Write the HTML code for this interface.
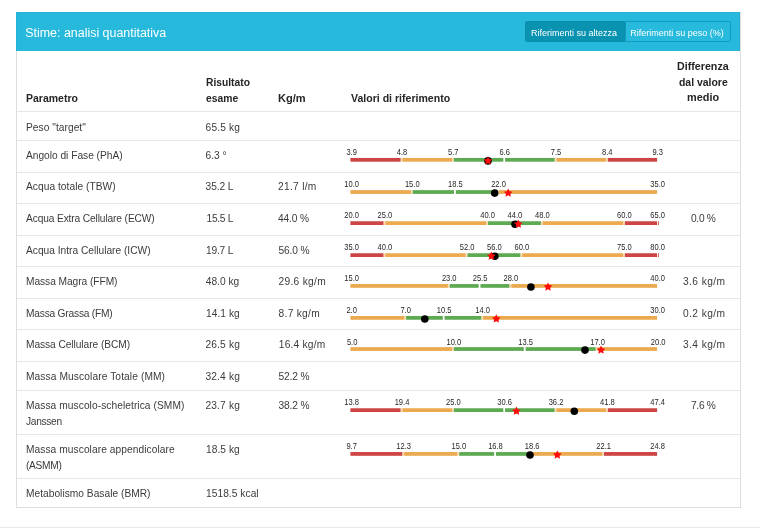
<!DOCTYPE html>
<html><head><meta charset="utf-8"><title>Stime: analisi quantitativa</title>
<style>
html,body{margin:0;padding:0;background:#fff;}
body{width:760px;height:532px;position:relative;overflow:hidden;font-family:"Liberation Sans", sans-serif;color:#3b3b3b;}
#w{position:absolute;left:0;top:0;width:760px;height:532px;will-change:transform;}
.t{position:absolute;white-space:nowrap;font-size:10.2px;line-height:12px;}
.b{font-weight:bold;font-size:10.4px;color:#262626;transform-origin:0 0;}
.hl{position:absolute;left:17px;width:723px;height:1px;background:#e6e6e9;}
#panel{position:absolute;left:16px;top:12px;width:723px;height:495px;border:1px solid #dedee2;border-top:none;box-sizing:content-box;}
#hdr{position:absolute;left:16px;top:12px;width:724px;height:39px;background:#26b9dc;box-shadow:inset 1px 1px 0 #24b1d3, inset -1px 0 0 #24b1d3;}
#title{position:absolute;left:25.2px;top:25px;font-size:12.45px;line-height:16px;color:#fff;white-space:nowrap;}
.btn{position:absolute;top:21px;height:21px;box-sizing:border-box;color:#fff;font-size:9px;line-height:22px;text-align:center;white-space:nowrap;}
#b1{left:525px;width:100px;padding-right:2px;background:#0a93b0;border:1px solid #0a8eaa;border-radius:2.5px 0 0 2.5px;}
#b2{left:624.5px;width:106px;padding-right:1px;background:#27badd;border:1px solid #109cc0;border-radius:0 2.5px 2.5px 0;}
#foot{position:absolute;left:0;top:527px;width:760px;height:1px;background:#e9e9ec;}
svg{position:absolute;left:0;top:0;}
svg text{font-family:"Liberation Sans", sans-serif;font-size:7.55px;fill:#262626;text-anchor:middle;}

</style></head><body>
<div id="w">
<div id="panel"></div><div id="hdr"></div>
<div id="title">Stime: analisi quantitativa</div>
<div class="btn" id="b1">Riferimenti su altezza</div><div class="btn" id="b2">Riferimenti su peso (%)</div>
<div class="hl" style="top:110.80px"></div>
<div class="hl" style="top:139.70px"></div>
<div class="hl" style="top:171.70px"></div>
<div class="hl" style="top:202.90px"></div>
<div class="hl" style="top:234.80px"></div>
<div class="hl" style="top:266.00px"></div>
<div class="hl" style="top:297.50px"></div>
<div class="hl" style="top:328.80px"></div>
<div class="hl" style="top:360.50px"></div>
<div class="hl" style="top:390.00px"></div>
<div class="hl" style="top:434.00px"></div>
<div class="hl" style="top:477.75px"></div>
<div class="t b" id="h1" style="left:26.00px;top:93px;transform:scaleX(1.0098)">Parametro</div>
<div class="t b" id="h2a" style="left:205.60px;top:77px;transform:scaleX(0.9886)">Risultato</div>
<div class="t b" id="h2b" style="left:205.60px;top:93px;transform:scaleX(0.9968)">esame</div>
<div class="t b" id="h3" style="left:277.80px;top:93px;transform:scaleX(1.0640)">Kg/m</div>
<div class="t b" id="h4" style="left:351.00px;top:93px;transform:scaleX(1.0155)">Valori di riferimento</div>
<div class="t b" id="h5a" style="left:676.80px;top:61px;transform:scaleX(1.0286)">Differenza</div>
<div class="t b" id="h5b" style="left:679.00px;top:77px;transform:scaleX(1.0042)">dal valore</div>
<div class="t b" id="h5c" style="left:686.80px;top:92px;transform:scaleX(1.0483)">medio</div>
<div class="t" id="peso_n0" style="left:26.00px;top:122px;letter-spacing:0.042px">Peso &quot;target&quot;</div>
<div class="t" id="peso_v" style="left:205.60px;top:122px;letter-spacing:0.133px">65.5 kg</div>
<div class="t" id="pha_n0" style="left:26.00px;top:150px;letter-spacing:-0.013px">Angolo di Fase (PhA)</div>
<div class="t" id="pha_v" style="left:205.60px;top:150px;letter-spacing:-0.025px">6.3 °</div>
<div class="t" id="tbw_n0" style="left:26.00px;top:181px;letter-spacing:0.044px">Acqua totale (TBW)</div>
<div class="t" id="tbw_v" style="left:205.60px;top:181px;letter-spacing:-0.110px">35.2 L</div>
<div class="t" id="tbw_m" style="left:278.00px;top:181px;letter-spacing:0.300px">21.7 l/m</div>
<div class="t" id="ecw_n0" style="left:26.00px;top:213px;letter-spacing:-0.125px">Acqua Extra Cellulare (ECW)</div>
<div class="t" id="ecw_v" style="left:206.60px;top:213px;letter-spacing:-0.300px">15.5 L</div>
<div class="t" id="ecw_m" style="left:278.00px;top:213px;letter-spacing:-0.150px">44.0 %</div>
<div class="t" id="ecw_d" style="left:691.00px;top:213px;letter-spacing:-0.300px">0.0 %</div>
<div class="t" id="icw_n0" style="left:26.00px;top:245px">Acqua Intra Cellulare (ICW)</div>
<div class="t" id="icw_v" style="left:206.00px;top:245px;letter-spacing:-0.200px">19.7 L</div>
<div class="t" id="icw_m" style="left:278.60px;top:245px;letter-spacing:-0.160px">56.0 %</div>
<div class="t" id="ffm_n0" style="left:26.00px;top:276px;letter-spacing:-0.047px">Massa Magra (FFM)</div>
<div class="t" id="ffm_v" style="left:205.76px;top:276px;letter-spacing:0.017px">48.0 kg</div>
<div class="t" id="ffm_m" style="left:278.60px;top:276px;letter-spacing:0.288px">29.6 kg/m</div>
<div class="t" id="ffm_d" style="left:683.00px;top:276px;letter-spacing:0.429px">3.6 kg/m</div>
<div class="t" id="fm_n0" style="left:26.00px;top:308px;letter-spacing:-0.203px">Massa Grassa (FM)</div>
<div class="t" id="fm_v" style="left:206.00px;top:308px;letter-spacing:0.050px">14.1 kg</div>
<div class="t" id="fm_m" style="left:278.60px;top:308px;letter-spacing:0.286px">8.7 kg/m</div>
<div class="t" id="fm_d" style="left:683.00px;top:308px;letter-spacing:0.429px">0.2 kg/m</div>
<div class="t" id="bcm_n0" style="left:26.00px;top:339px;letter-spacing:-0.062px">Massa Cellulare (BCM)</div>
<div class="t" id="bcm_v" style="left:205.40px;top:339px;letter-spacing:0.183px">26.5 kg</div>
<div class="t" id="bcm_m" style="left:278.80px;top:339px;letter-spacing:0.213px">16.4 kg/m</div>
<div class="t" id="bcm_d" style="left:683.00px;top:339px;letter-spacing:0.429px">3.4 kg/m</div>
<div class="t" id="mm_n0" style="left:26.00px;top:371px;letter-spacing:0.106px">Massa Muscolare Totale (MM)</div>
<div class="t" id="mm_v" style="left:205.40px;top:371px;letter-spacing:0.183px">32.4 kg</div>
<div class="t" id="mm_m" style="left:278.60px;top:371px;letter-spacing:-0.160px">52.2 %</div>
<div class="t" id="smm_n0" style="left:26.00px;top:400px;letter-spacing:0.070px">Massa muscolo-scheletrica (SMM)</div>
<div class="t" id="smm_n1" style="left:26.00px;top:416px;letter-spacing:-0.300px">Janssen</div>
<div class="t" id="smm_v" style="left:205.40px;top:400px;letter-spacing:0.183px">23.7 kg</div>
<div class="t" id="smm_m" style="left:278.60px;top:400px;letter-spacing:-0.160px">38.2 %</div>
<div class="t" id="smm_d" style="left:691.00px;top:400px;letter-spacing:-0.300px">7.6 %</div>
<div class="t" id="asmm_n0" style="left:26.00px;top:444px;letter-spacing:0.071px">Massa muscolare appendicolare</div>
<div class="t" id="asmm_n1" style="left:26.00px;top:460px;letter-spacing:-0.300px">(ASMM)</div>
<div class="t" id="asmm_v" style="left:206.00px;top:444px;letter-spacing:0.050px">18.5 kg</div>
<div class="t" id="bmr_n0" style="left:26.00px;top:488px;letter-spacing:0.022px">Metabolismo Basale (BMR)</div>
<div class="t" id="bmr_v" style="left:206.00px;top:488px;letter-spacing:0.050px">1518.5 kcal</div>
<svg width="760" height="532" viewBox="0 0 760 532">
<rect x="350.40" y="157.95" width="50.23" height="3.75" fill="#cd4444"/>
<rect x="402.43" y="157.95" width="49.53" height="3.75" fill="#eca94e"/>
<rect x="453.77" y="157.95" width="49.53" height="3.75" fill="#5eaa52"/>
<rect x="505.10" y="157.95" width="49.53" height="3.75" fill="#5eaa52"/>
<rect x="556.43" y="157.95" width="49.53" height="3.75" fill="#eca94e"/>
<rect x="607.77" y="157.95" width="49.33" height="3.75" fill="#cd4444"/>
<rect x="400.63" y="157.95" width="1.8" height="3.75" fill="#eca94e" opacity="0.42"/>
<rect x="451.97" y="157.95" width="1.8" height="3.75" fill="#eca94e" opacity="0.42"/>
<rect x="554.63" y="157.95" width="1.8" height="3.75" fill="#eca94e" opacity="0.42"/>
<rect x="605.97" y="157.95" width="1.8" height="3.75" fill="#eca94e" opacity="0.42"/>
<text transform="translate(351.65 155) scale(1 1.09)">3.9</text>
<text transform="translate(401.98 155) scale(1 1.09)">4.8</text>
<text transform="translate(453.32 155) scale(1 1.09)">5.7</text>
<text transform="translate(504.65 155) scale(1 1.09)">6.6</text>
<text transform="translate(555.98 155) scale(1 1.09)">7.5</text>
<text transform="translate(607.32 155) scale(1 1.09)">8.4</text>
<text transform="translate(657.65 155) scale(1 1.09)">9.3</text>
<circle cx="488.00" cy="160.90" r="3.8" fill="#000"/>
<path d="M488.00 156.30 L489.35 158.99 L492.33 159.44 L490.19 161.56 L490.67 164.53 L488.00 163.15 L485.33 164.53 L485.81 161.56 L483.67 159.44 L486.65 158.99Z" fill="#fb0d0d"/>
<rect x="350.40" y="190.15" width="60.50" height="3.75" fill="#eca94e"/>
<rect x="412.70" y="190.15" width="41.32" height="3.75" fill="#5eaa52"/>
<rect x="455.82" y="190.15" width="41.32" height="3.75" fill="#5eaa52"/>
<rect x="498.94" y="190.15" width="158.16" height="3.75" fill="#eca94e"/>
<rect x="410.90" y="190.15" width="1.8" height="3.75" fill="#eca94e" opacity="0.42"/>
<rect x="497.14" y="190.15" width="1.8" height="3.75" fill="#eca94e" opacity="0.42"/>
<text transform="translate(351.65 187) scale(1 1.09)">10.0</text>
<text transform="translate(412.25 187) scale(1 1.09)">15.0</text>
<text transform="translate(455.37 187) scale(1 1.09)">18.5</text>
<text transform="translate(498.49 187) scale(1 1.09)">22.0</text>
<text transform="translate(657.65 187) scale(1 1.09)">35.0</text>
<circle cx="494.70" cy="193.10" r="3.8" fill="#000"/>
<path d="M508.20 188.50 L509.55 191.19 L512.53 191.64 L510.39 193.76 L510.87 196.73 L508.20 195.35 L505.53 196.73 L506.01 193.76 L503.87 191.64 L506.85 191.19Z" fill="#fb0d0d"/>
<rect x="350.40" y="221.25" width="33.12" height="3.75" fill="#cd4444"/>
<rect x="385.32" y="221.25" width="100.87" height="3.75" fill="#eca94e"/>
<rect x="487.99" y="221.25" width="25.58" height="3.75" fill="#5eaa52"/>
<rect x="515.37" y="221.25" width="25.58" height="3.75" fill="#5eaa52"/>
<rect x="542.74" y="221.25" width="80.33" height="3.75" fill="#eca94e"/>
<rect x="624.88" y="221.25" width="32.22" height="3.75" fill="#cd4444"/>
<rect x="383.52" y="221.25" width="1.8" height="3.75" fill="#eca94e" opacity="0.42"/>
<rect x="486.19" y="221.25" width="1.8" height="3.75" fill="#eca94e" opacity="0.42"/>
<rect x="540.94" y="221.25" width="1.8" height="3.75" fill="#eca94e" opacity="0.42"/>
<rect x="623.08" y="221.25" width="1.8" height="3.75" fill="#eca94e" opacity="0.42"/>
<rect x="658.20" y="221.25" width="0.8" height="3.75" fill="#cd4444"/>
<text transform="translate(351.65 218) scale(1 1.09)">20.0</text>
<text transform="translate(384.87 218) scale(1 1.09)">25.0</text>
<text transform="translate(487.54 218) scale(1 1.09)">40.0</text>
<text transform="translate(514.92 218) scale(1 1.09)">44.0</text>
<text transform="translate(542.29 218) scale(1 1.09)">48.0</text>
<text transform="translate(624.43 218) scale(1 1.09)">60.0</text>
<text transform="translate(657.65 218) scale(1 1.09)">65.0</text>
<circle cx="515.00" cy="224.20" r="3.8" fill="#000"/>
<path d="M518.30 219.60 L519.65 222.29 L522.63 222.74 L520.49 224.86 L520.97 227.83 L518.30 226.45 L515.63 227.83 L516.11 224.86 L513.97 222.74 L516.95 222.29Z" fill="#fb0d0d"/>
<rect x="350.40" y="253.25" width="33.12" height="3.75" fill="#cd4444"/>
<rect x="385.32" y="253.25" width="80.33" height="3.75" fill="#eca94e"/>
<rect x="467.46" y="253.25" width="25.58" height="3.75" fill="#5eaa52"/>
<rect x="494.83" y="253.25" width="25.58" height="3.75" fill="#5eaa52"/>
<rect x="522.21" y="253.25" width="100.87" height="3.75" fill="#eca94e"/>
<rect x="624.88" y="253.25" width="32.22" height="3.75" fill="#cd4444"/>
<rect x="383.52" y="253.25" width="1.8" height="3.75" fill="#eca94e" opacity="0.42"/>
<rect x="465.66" y="253.25" width="1.8" height="3.75" fill="#eca94e" opacity="0.42"/>
<rect x="520.41" y="253.25" width="1.8" height="3.75" fill="#eca94e" opacity="0.42"/>
<rect x="623.08" y="253.25" width="1.8" height="3.75" fill="#eca94e" opacity="0.42"/>
<rect x="658.20" y="253.25" width="0.8" height="3.75" fill="#cd4444"/>
<text transform="translate(351.65 250) scale(1 1.09)">35.0</text>
<text transform="translate(384.87 250) scale(1 1.09)">40.0</text>
<text transform="translate(467.01 250) scale(1 1.09)">52.0</text>
<text transform="translate(494.38 250) scale(1 1.09)">56.0</text>
<text transform="translate(521.76 250) scale(1 1.09)">60.0</text>
<text transform="translate(624.43 250) scale(1 1.09)">75.0</text>
<text transform="translate(657.65 250) scale(1 1.09)">80.0</text>
<circle cx="494.80" cy="256.20" r="3.8" fill="#000"/>
<path d="M491.30 251.60 L492.65 254.29 L495.63 254.74 L493.49 256.86 L493.97 259.83 L491.30 258.45 L488.63 259.83 L489.11 256.86 L486.97 254.74 L489.95 254.29Z" fill="#fb0d0d"/>
<rect x="350.40" y="284.05" width="97.46" height="3.75" fill="#eca94e"/>
<rect x="449.66" y="284.05" width="29.00" height="3.75" fill="#5eaa52"/>
<rect x="480.46" y="284.05" width="29.00" height="3.75" fill="#5eaa52"/>
<rect x="511.26" y="284.05" width="145.84" height="3.75" fill="#eca94e"/>
<rect x="447.86" y="284.05" width="1.8" height="3.75" fill="#eca94e" opacity="0.42"/>
<rect x="509.46" y="284.05" width="1.8" height="3.75" fill="#eca94e" opacity="0.42"/>
<text transform="translate(351.65 281) scale(1 1.09)">15.0</text>
<text transform="translate(449.21 281) scale(1 1.09)">23.0</text>
<text transform="translate(480.01 281) scale(1 1.09)">25.5</text>
<text transform="translate(510.81 281) scale(1 1.09)">28.0</text>
<text transform="translate(657.65 281) scale(1 1.09)">40.0</text>
<circle cx="530.90" cy="287.00" r="3.8" fill="#000"/>
<path d="M548.00 282.40 L549.35 285.09 L552.33 285.54 L550.19 287.66 L550.67 290.63 L548.00 289.25 L545.33 290.63 L545.81 287.66 L543.67 285.54 L546.65 285.09Z" fill="#fb0d0d"/>
<rect x="350.40" y="316.00" width="53.90" height="3.75" fill="#eca94e"/>
<rect x="406.10" y="316.00" width="36.70" height="3.75" fill="#5eaa52"/>
<rect x="444.60" y="316.00" width="36.70" height="3.75" fill="#5eaa52"/>
<rect x="483.10" y="316.00" width="174.00" height="3.75" fill="#eca94e"/>
<rect x="404.30" y="316.00" width="1.8" height="3.75" fill="#eca94e" opacity="0.42"/>
<rect x="481.30" y="316.00" width="1.8" height="3.75" fill="#eca94e" opacity="0.42"/>
<text transform="translate(351.65 313) scale(1 1.09)">2.0</text>
<text transform="translate(405.65 313) scale(1 1.09)">7.0</text>
<text transform="translate(444.15 313) scale(1 1.09)">10.5</text>
<text transform="translate(482.65 313) scale(1 1.09)">14.0</text>
<text transform="translate(657.65 313) scale(1 1.09)">30.0</text>
<circle cx="424.80" cy="318.95" r="3.8" fill="#000"/>
<path d="M496.30 314.35 L497.65 317.04 L500.63 317.49 L498.49 319.61 L498.97 322.58 L496.30 321.20 L493.63 322.58 L494.11 319.61 L491.97 317.49 L494.95 317.04Z" fill="#fb0d0d"/>
<rect x="350.40" y="347.15" width="101.57" height="3.75" fill="#eca94e"/>
<rect x="453.77" y="347.15" width="70.07" height="3.75" fill="#5eaa52"/>
<rect x="525.63" y="347.15" width="70.07" height="3.75" fill="#5eaa52"/>
<rect x="597.50" y="347.15" width="59.60" height="3.75" fill="#eca94e"/>
<rect x="451.97" y="347.15" width="1.8" height="3.75" fill="#eca94e" opacity="0.42"/>
<rect x="595.70" y="347.15" width="1.8" height="3.75" fill="#eca94e" opacity="0.42"/>
<text transform="translate(352.15 345) scale(1 1.09)">5.0</text>
<text transform="translate(453.82 345) scale(1 1.09)">10.0</text>
<text transform="translate(525.68 345) scale(1 1.09)">13.5</text>
<text transform="translate(597.55 345) scale(1 1.09)">17.0</text>
<text transform="translate(658.15 345) scale(1 1.09)">20.0</text>
<circle cx="585.00" cy="350.10" r="3.8" fill="#000"/>
<path d="M601.00 345.50 L602.35 348.19 L605.33 348.64 L603.19 350.76 L603.67 353.73 L601.00 352.35 L598.33 353.73 L598.81 350.76 L596.67 348.64 L599.65 348.19Z" fill="#fb0d0d"/>
<rect x="350.40" y="408.25" width="50.23" height="3.75" fill="#cd4444"/>
<rect x="402.43" y="408.25" width="49.53" height="3.75" fill="#eca94e"/>
<rect x="453.77" y="408.25" width="49.53" height="3.75" fill="#5eaa52"/>
<rect x="505.10" y="408.25" width="49.53" height="3.75" fill="#5eaa52"/>
<rect x="556.43" y="408.25" width="49.53" height="3.75" fill="#eca94e"/>
<rect x="607.77" y="408.25" width="49.33" height="3.75" fill="#cd4444"/>
<rect x="400.63" y="408.25" width="1.8" height="3.75" fill="#eca94e" opacity="0.42"/>
<rect x="451.97" y="408.25" width="1.8" height="3.75" fill="#eca94e" opacity="0.42"/>
<rect x="554.63" y="408.25" width="1.8" height="3.75" fill="#eca94e" opacity="0.42"/>
<rect x="605.97" y="408.25" width="1.8" height="3.75" fill="#eca94e" opacity="0.42"/>
<text transform="translate(351.65 405) scale(1 1.09)">13.8</text>
<text transform="translate(401.98 405) scale(1 1.09)">19.4</text>
<text transform="translate(453.32 405) scale(1 1.09)">25.0</text>
<text transform="translate(504.65 405) scale(1 1.09)">30.6</text>
<text transform="translate(555.98 405) scale(1 1.09)">36.2</text>
<text transform="translate(607.32 405) scale(1 1.09)">41.8</text>
<text transform="translate(657.65 405) scale(1 1.09)">47.4</text>
<circle cx="574.30" cy="411.20" r="3.8" fill="#000"/>
<path d="M516.40 406.60 L517.75 409.29 L520.73 409.74 L518.59 411.86 L519.07 414.83 L516.40 413.45 L513.73 414.83 L514.21 411.86 L512.07 409.74 L515.05 409.29Z" fill="#fb0d0d"/>
<rect x="350.40" y="452.05" width="51.93" height="3.75" fill="#cd4444"/>
<rect x="404.13" y="452.05" width="53.27" height="3.75" fill="#eca94e"/>
<rect x="459.21" y="452.05" width="34.92" height="3.75" fill="#5eaa52"/>
<rect x="495.92" y="452.05" width="34.92" height="3.75" fill="#5eaa52"/>
<rect x="532.64" y="452.05" width="69.59" height="3.75" fill="#eca94e"/>
<rect x="604.03" y="452.05" width="53.07" height="3.75" fill="#cd4444"/>
<rect x="402.33" y="452.05" width="1.8" height="3.75" fill="#eca94e" opacity="0.42"/>
<rect x="457.41" y="452.05" width="1.8" height="3.75" fill="#eca94e" opacity="0.42"/>
<rect x="530.84" y="452.05" width="1.8" height="3.75" fill="#eca94e" opacity="0.42"/>
<rect x="602.23" y="452.05" width="1.8" height="3.75" fill="#eca94e" opacity="0.42"/>
<text transform="translate(351.65 449) scale(1 1.09)">9.7</text>
<text transform="translate(403.68 449) scale(1 1.09)">12.3</text>
<text transform="translate(458.76 449) scale(1 1.09)">15.0</text>
<text transform="translate(495.47 449) scale(1 1.09)">16.8</text>
<text transform="translate(532.19 449) scale(1 1.09)">18.6</text>
<text transform="translate(603.58 449) scale(1 1.09)">22.1</text>
<text transform="translate(657.65 449) scale(1 1.09)">24.8</text>
<circle cx="530.00" cy="455.00" r="3.8" fill="#000"/>
<path d="M557.30 450.40 L558.65 453.09 L561.63 453.54 L559.49 455.66 L559.97 458.63 L557.30 457.25 L554.63 458.63 L555.11 455.66 L552.97 453.54 L555.95 453.09Z" fill="#fb0d0d"/>
</svg>
<div id="foot"></div>
</div>
</body></html>
